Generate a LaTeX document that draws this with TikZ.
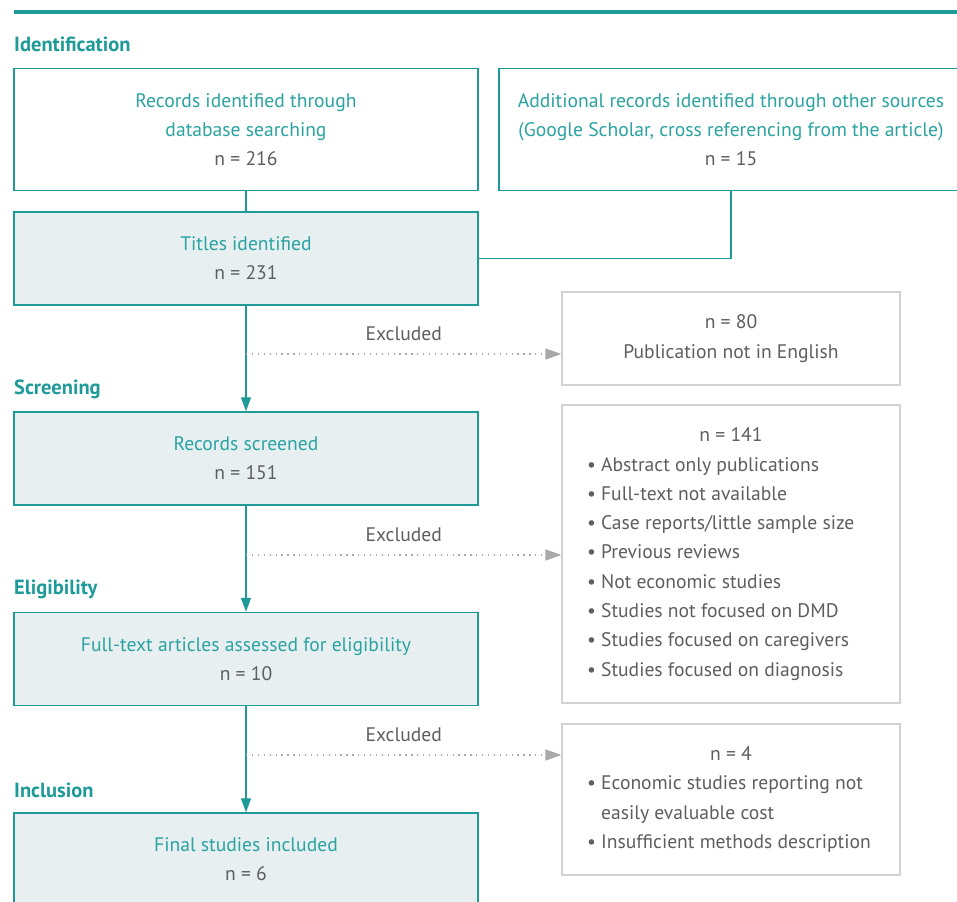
\documentclass[tikz,border=0pt]{standalone}
\usepackage{fontspec}
\setmainfont{PT Sans}
\usetikzlibrary{positioning,arrows.meta}

\definecolor{prteal}{HTML}{1E9A98}
\definecolor{prtext}{HTML}{2AA3A1}
\definecolor{prfill}{HTML}{E7EFF1}
\definecolor{prgray}{HTML}{5E5E5E}
\definecolor{prline}{HTML}{D2D2D2}
\definecolor{prdots}{HTML}{A9A9A9}

\newcommand{\tl}[1]{\textcolor{prtext}{#1}}
\newcommand{\bitem}[1]{\makebox[288pt][l]{\textbullet\ #1}}
\newcommand{\bcont}[1]{\makebox[288pt][l]{\phantom{\textbullet\ }#1}}

\begin{document}
\begin{tikzpicture}[x=1pt, y=-1pt,
                    font=\fontsize{19.6}{29.3}\selectfont,
                    stagebox/.style={rectangle, draw=prteal, line width=1.5pt, fill=prfill, minimum width=464pt, minimum height=93pt, align=center, text=prgray, inner sep=0pt},
                    sourcebox/.style={stagebox, fill=white, minimum height=122pt},
                    exclbox/.style={rectangle, draw=prline, line width=1.2pt, fill=white, minimum width=338pt, align=center, text=prgray, inner sep=0pt},
                    heading/.style={anchor=west, inner sep=0pt, text=prteal, font=\fontsize{20.5}{24}\selectfont\bfseries},
                    flow/.style={draw=prteal, line width=1.3pt},
                    flowarrow/.style={flow, -{Triangle[length=14pt,width=10pt]}},
                    dotarrow/.style={draw=prdots, line width=1.3pt, dash pattern=on 1.3pt off 4.6pt, -{Triangle[length=16pt,width=11pt,fill=prdots]}},
                    exlabel/.style={text=prgray, above=9pt}
                ]
                    \useasboundingbox (0,0) rectangle (957,901);
                    \clip (0,0) rectangle (957,901);

                    % top rule
                    \draw[prteal, line width=4pt] (14,12) -- (957,12);

                    % stage headings
                    \node[heading] (hident) at (14,44) {Identification};
                    \node[heading] (hscreen) at (14,389) {Screening};
                    \node[heading] (helig) at (14,589) {Eligibility};
                    \node[heading] (hincl) at (14,790) {Inclusion};

                    % left column
                    \node[sourcebox] (database) at (246,129.5) {\tl{Records identified through}\\ \tl{database searching}\\ n = 216};
                    \node[sourcebox, minimum height=122pt] (additional) at (731,129.5) {\tl{Additional records identified through other sources}\\ \tl{(Google Scholar, cross referencing from the article)}\\ n = 15};
                    \node[stagebox] (titles) at (246,258.5) {\tl{Titles identified}\\ n = 231};
                    \node[stagebox] (screened) at (246,458.5) {\tl{Records screened}\\ n = 151};
                    \node[stagebox] (fulltext) at (246,659) {\tl{Full-text articles assessed for eligibility}\\ n = 10};
                    \node[stagebox] (final) at (246,859.5) {\tl{Final studies included}\\ n = 6};

                    % exclusions
                    \node[exclbox, minimum height=93pt] (exclone) at (731,338.5) {n = 80\\ Publication not in English};
                    \node[exclbox, minimum height=298pt] (excltwo) at (731,554) {n = 141\\
                        \bitem{Abstract only publications}\\
                        \bitem{Full-text not available}\\
                        \bitem{Case reports/little sample size}\\
                        \bitem{Previous reviews}\\
                        \bitem{Not economic studies}\\
                        \bitem{Studies not focused on DMD}\\
                        \bitem{Studies focused on caregivers}\\
                        \bitem{Studies focused on diagnosis}};
                    \node[exclbox, minimum height=151pt] (exclthree) at (731,799.5) {n = 4\\
                        \bitem{Economic studies reporting not}\\
                        \bcont{easily evaluable cost}\\
                        \bitem{Insufficient methods description}};

                    % connectors
                    \draw[flow] (database) -- (titles);
                    \draw[flow] (additional.south) |- (titles.east);
                    \draw[flowarrow] (titles) -- (screened);
                    \draw[flowarrow] (screened) -- (fulltext);
                    \draw[flowarrow] (fulltext) -- (final);

                    \coordinate (dotone) at (246,354);
                    \coordinate (dottwo) at (246,555);
                    \coordinate (dotthree) at (246,755);
                    \draw[dotarrow] (dotone) -- (dotone -| exclone.west) node[midway, exlabel] {Excluded};
                    \draw[dotarrow] (dottwo) -- (dottwo -| excltwo.west) node[midway, exlabel] {Excluded};
                    \draw[dotarrow] (dotthree) -- (dotthree -| exclthree.west) node[midway, exlabel] {Excluded};
                \end{tikzpicture}
\end{document}
